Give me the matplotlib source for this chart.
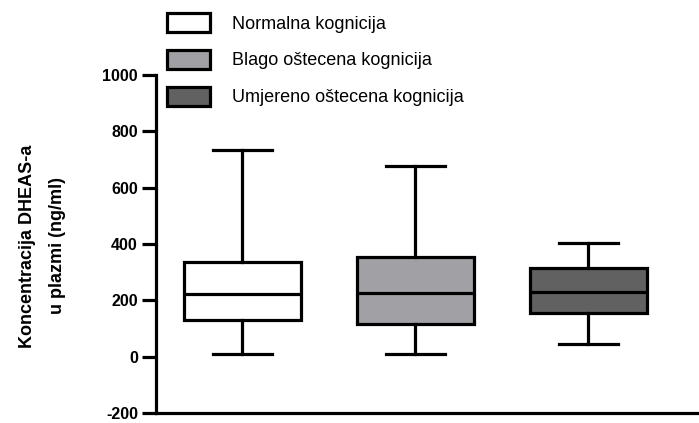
import matplotlib
matplotlib.use("Agg")
import matplotlib.pyplot as plt
from matplotlib.patches import Patch

plt.rcParams['font.family'] = ['Liberation Sans', 'DejaVu Sans']

groups = ["Normalna kognicija", "Blago oštecena kognicija", "Umjereno oštecena kognicija"]
whisker_low = [8, 11, 46]
q1 = [130, 117, 156]
median = [221, 227, 230]
q3 = [335, 355, 316]
whisker_high = [734, 677, 404]
fill_colors = ["#FFFFFF", "#A1A1A5", "#616161"]
y_ticks = [-200, 0, 200, 400, 600, 800, 1000]

W, H = 699, 423
fig = plt.figure(figsize=(W/100, H/100), dpi=100)
ax = fig.add_axes([156/W, 10/H, 543/W, 338/H])

stats = []
for i in range(len(groups)):
    stats.append(dict(med=median[i], q1=q1[i], q3=q3[i],
                      whislo=whisker_low[i], whishi=whisker_high[i],
                      fliers=[], label=groups[i]))

lw = 2.3
bp = ax.bxp(stats, positions=[1, 2, 3], widths=0.68, capwidths=0.34,
            patch_artist=True, showfliers=False,
            boxprops=dict(linewidth=lw, edgecolor='black'),
            medianprops=dict(linewidth=lw, color='black'),
            whiskerprops=dict(linewidth=lw, color='black'),
            capprops=dict(linewidth=lw, color='black'))
for patch, c in zip(bp['boxes'], fill_colors):
    patch.set_facecolor(c)

ax.set_xlim(0.5, 3.64)
ax.set_ylim(-200, 1000)
ax.set_yticks(y_ticks)
ax.set_yticklabels([str(t) for t in y_ticks], fontweight='bold', fontsize=11.5)
ax.set_xticks([])
for s in ['top', 'right']:
    ax.spines[s].set_visible(False)
for s in ['left', 'bottom']:
    ax.spines[s].set_linewidth(lw)
ax.tick_params(axis='y', length=10, width=lw, pad=3)

fig.text(43/W, 1 - 246/H, "Koncentracija DHEAS-a\nu plazmi (ng/ml)", rotation=90,
         ha='center', va='center', multialignment='center',
         fontsize=13, fontweight='bold', linespacing=2.0)

handles = [Patch(facecolor=c, edgecolor='black', linewidth=lw) for c in fill_colors]
fig.legend(handles, groups, loc='upper left',
           bbox_to_anchor=(167/W, (H-13)/H), frameon=False,
           borderpad=0, borderaxespad=0, fontsize=13,
           handlelength=2.4, handleheight=1.25, handletextpad=1.2,
           labelspacing=0.95)

fig.savefig("out.png", dpi=100)
